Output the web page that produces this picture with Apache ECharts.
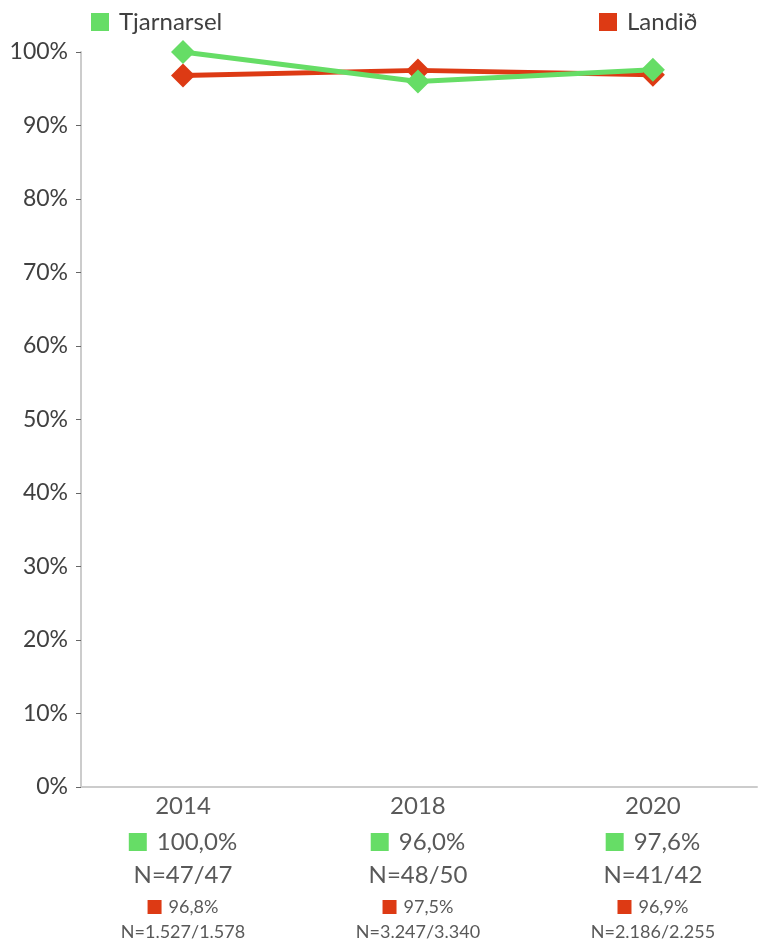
<!DOCTYPE html>
<html>
<head>
<meta charset="utf-8">
<script src="https://cdn.jsdelivr.net/npm/echarts@6/dist/echarts.min.js"></script>
<style>
  html, body { margin: 0; padding: 0; background: #fff; }
  #chart { width: 758px; height: 944px; }
</style>
</head>
<body>
<div id="chart"></div>
<script>
// ár og gildi
const years = ['2014', '2018', '2020']
const tjarnarsel = [100.0, 96.0, 97.6]
const landid = [96.8, 97.5, 96.9]
const tjarnarselLabels = ['100,0%', '96,0%', '97,6%']
const tjarnarselN = ['N=47/47', 'N=48/50', 'N=41/42']
const landidLabels = ['96,8%', '97,5%', '96,9%']
const landidN = ['N=1.527/1.578', 'N=3.247/3.340', 'N=2.186/2.255']

const GREEN = '#66dd66'
const RED = '#dd3a14'
const FONT = 'Lato'

const chart = echarts.init(document.getElementById('chart'))

chart.setOption({
  animation: false,
  textStyle: { fontFamily: FONT },
  legend: [{
    data: ['Tjarnarsel'],
    left: 86,
    top: 5,
    icon: 'rect',
    itemWidth: 18,
    itemHeight: 18,
    textStyle: { fontSize: 24, color: '#404040', fontFamily: FONT, padding: [0, 0, 0, 5] }
  }, {
    data: ['Landið'],
    left: 594,
    top: 5,
    icon: 'rect',
    itemWidth: 18,
    itemHeight: 18,
    textStyle: { fontSize: 24, color: '#404040', fontFamily: FONT, padding: [0, 0, 0, 5] }
  }],
  grid: {
    left: 81,
    right: 1,
    top: 52,
    bottom: 157
  },
  xAxis: {
    type: 'value',
    min: -0.434,
    max: 2.443,
    splitLine: { show: false },
    axisTick: { show: false },
    axisLine: { onZero: false, lineStyle: { color: '#cccccc', width: 2 } },
    axisLabel: {
      customValues: [0, 1, 2],
      margin: 1,
      formatter: function (v) {
        const i = Math.round(v)
        return '{yr|' + years[i] + '}\n' +
          '{gs|}{gv|' + tjarnarselLabels[i] + '}\n' +
          '{n|' + tjarnarselN[i] + '}\n' +
          '{rs|}{rv|' + landidLabels[i] + '}\n' +
          '{rn|' + landidN[i] + '}'
      },
      rich: {
        yr: { fontSize: 24, color: '#595959', lineHeight: 36, fontFamily: FONT },
        gs: { width: 18, height: 18, backgroundColor: GREEN, lineHeight: 36 },
        gv: { fontSize: 24, color: '#595959', lineHeight: 36, fontFamily: FONT, padding: [0, 0, 0, 10] },
        n: { fontSize: 24, color: '#595959', lineHeight: 30, fontFamily: FONT },
        rs: { width: 14, height: 14, backgroundColor: RED, lineHeight: 34 },
        rv: { fontSize: 18, color: '#595959', lineHeight: 34, fontFamily: FONT, padding: [0, 0, 0, 7] },
        rn: { fontSize: 18, color: '#595959', lineHeight: 16, fontFamily: FONT }
      }
    }
  },
  yAxis: {
    type: 'value',
    min: 0,
    max: 100,
    interval: 10,
    splitLine: { show: false },
    axisLine: { show: true, onZero: false, lineStyle: { color: '#cccccc', width: 2 } },
    axisTick: { show: true, length: 5, lineStyle: { color: '#666666' } },
    axisLabel: {
      formatter: '{value}%',
      fontSize: 23,
      color: '#404040',
      margin: 13,
      fontFamily: FONT
    }
  },
  series: [{
    name: 'Landið',
    type: 'line',
    symbol: 'diamond',
    symbolSize: 24,
    lineStyle: { width: 5, color: RED },
    itemStyle: { color: RED },
    data: landid.map((v, i) => [i, v])
  }, {
    name: 'Tjarnarsel',
    type: 'line',
    symbol: 'diamond',
    symbolSize: 24,
    lineStyle: { width: 5, color: GREEN },
    itemStyle: { color: GREEN },
    data: tjarnarsel.map((v, i) => [i, v])
  }]
})
</script>
</body>
</html>
